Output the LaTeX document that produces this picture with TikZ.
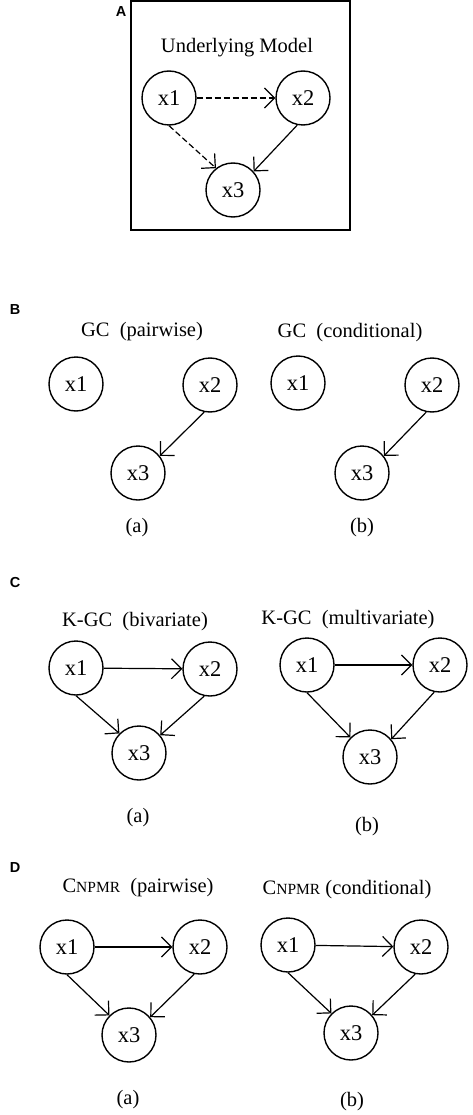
\documentclass[tikz,border=0pt]{standalone}
\usepackage{fontspec}
\setmainfont{Liberation Serif}
\setsansfont{Liberation Sans}
\usetikzlibrary{arrows.meta}
\tikzset{
  vnode/.style={circle,draw,line width=1.4pt,minimum size=54pt,inner sep=0pt,font=\fontsize{22.5}{22.5}\selectfont},
  ttl/.style={font=\fontsize{20.5}{20.5}\selectfont,inner sep=0pt},
  sub/.style={font=\fontsize{20.5}{20.5}\selectfont,inner sep=0pt},
  plabel/.style={font=\sffamily\bfseries\fontsize{14.5}{14.5}\selectfont,inner sep=0pt},
  arr/.style={line width=1.2pt,-{Straight Barb[length=10pt,width=20pt,line width=1.2pt]}},
  darr/.style={arr,dash pattern=on 6pt off 3pt},
}
\newcommand{\cnpmr}{C{\fontsize{15.5}{15.5}\selectfont NPMR}}
\begin{document}
\begin{tikzpicture}[x=1pt,y=-1pt]
\useasboundingbox (0,0) rectangle (472,1115);
% Panel A
\node[plabel] (lA) at (121,12) {A};
\draw[line width=1.6pt] (131,1) rectangle (350,230);
\node[ttl] (tA) at (237,48) {Underlying Model};
\node[vnode] (a1) at (169,98) {x1};
\node[vnode] (a2) at (303,98) {x2};
\node[vnode] (a3) at (233,190) {x3};
\draw[darr] (a1) -- (a2);
\draw[darr] (a1.south) -- (a3.128);
\draw[arr] (a2.258) -- (a3.42);
% Panel B
\node[plabel] (lB) at (15,310) {B};
\node[ttl] (tB1) at (142,332) {GC\ \ (pairwise)};
\node[ttl] (tB2) at (350,333) {GC\ \ (conditional)};
\node[vnode] (b1) at (76,384) {x1};
\node[vnode] (b2) at (210,385) {x2};
\node[vnode] (b3) at (138,473) {x3};
\draw[arr] (b2.258) -- (b3.38);
\node[sub] (sBa) at (137,528) {(a)};
\node[vnode] (b4) at (298,383) {x1};
\node[vnode] (b5) at (432,385) {x2};
\node[vnode] (b6) at (362,473) {x3};
\draw[arr] (b5.258) -- (b6.38);
\node[sub] (sBb) at (362,528) {(b)};
% Panel C
\node[plabel] (lC) at (15,583) {C};
\node[ttl] (tC1) at (135,622) {K-GC\ \ (bivariate)};
\node[ttl] (tC2) at (348,620) {K-GC\ \ (multivariate)};
\node[vnode] (c1) at (76,668) {x1};
\node[vnode] (c2) at (210,669) {x2};
\node[vnode] (c3) at (139,753) {x3};
\draw[arr] (c1) -- (c2);
\draw[arr] (c1.south) -- (c3.135);
\draw[arr] (c2.258) -- (c3.40);
\node[sub] (sCa) at (138,818) {(a)};
\node[vnode] (c4) at (307,665) {x1};
\node[vnode] (c5) at (440,665) {x2};
\node[vnode] (c6) at (370,757) {x3};
\draw[arr] (c4) -- (c5);
\draw[arr] (c4.south) -- (c6.135);
\draw[arr] (c5.258) -- (c6.40);
\node[sub] (sCb) at (367,827) {(b)};
% Panel D
\node[plabel] (lD) at (15,868) {D};
\node[ttl] (tD1) at (138,888) {\cnpmr\ \ (pairwise)};
\node[ttl] (tD2) at (347,890) {\cnpmr\ (conditional)};
\node[vnode] (d1) at (67,947) {x1};
\node[vnode] (d2) at (200,947) {x2};
\node[vnode] (d3) at (129,1035) {x3};
\draw[arr] (d1) -- (d2);
\draw[arr] (d1.south) -- (d3.135);
\draw[arr] (d2.258) -- (d3.40);
\node[sub] (sDa) at (128,1100) {(a)};
\node[vnode] (d4) at (288,945) {x1};
\node[vnode] (d5) at (421,947) {x2};
\node[vnode] (d6) at (351,1033) {x3};
\draw[arr] (d4) -- (d5);
\draw[arr] (d4.south) -- (d6.135);
\draw[arr] (d5.258) -- (d6.40);
\node[sub] (sDb) at (352,1102) {(b)};
\end{tikzpicture}
\end{document}
